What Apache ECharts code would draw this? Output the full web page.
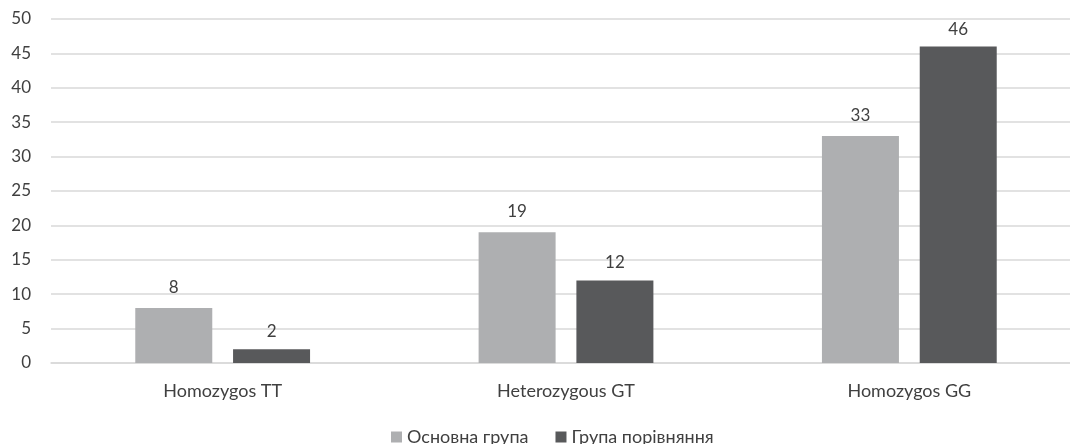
<!DOCTYPE html>
<html>
<head>
<meta charset="utf-8">
<script src="https://cdn.jsdelivr.net/npm/echarts@6/dist/echarts.min.js"></script>
<style>
  html, body { margin: 0; padding: 0; background: #fff; overflow: hidden; }
  #chart { width: 1081px; height: 444px; }
</style>
</head>
<body>
<div id="chart"></div>
<script>
const categories = ['Homozygos TT', 'Heterozygous GT', 'Homozygos GG'];
const seriesNames = ['Основна група', 'Група порівняння'];
const mainGroup = [8, 19, 33];
const compareGroup = [2, 12, 46];

// the plot area runs a little past the right edge of the picture
let Chart = echarts.init(document.getElementById('chart'));
let textColor = '#404040';
let fontFamily = 'Lato, "Open Sans", sans-serif';

let option = {
    animation: false,
    grid: {
        left: 51,
        right: 0,
        top: 19,
        bottom: 81
    },
    legend: {
        top: 423,
        left: 386,
        itemWidth: 11,
        itemHeight: 11,
        itemGap: 27,
        icon: 'rect',
        textStyle: { color: textColor, fontSize: 18, fontFamily: fontFamily },
        data: seriesNames
    },
    xAxis: {
        type: 'category',
        data: categories,
        axisLine: { lineStyle: { color: '#D9D9D9', width: 1.5 } },
        axisTick: { show: false },
        axisLabel: { color: textColor, fontSize: 18, fontFamily: fontFamily, margin: 19 }
    },
    yAxis: {
        type: 'value',
        min: 0,
        max: 50,
        interval: 5,
        axisLine: { show: false },
        axisTick: { show: false },
        axisLabel: { color: textColor, fontSize: 17, fontFamily: fontFamily, margin: 20 },
        splitLine: { lineStyle: { color: '#D9D9D9', width: 1.5 } }
    },
    series: [
        {
            name: seriesNames[0],
            type: 'bar',
            data: mainGroup,
            barWidth: 77,
            barGap: '27%',
            itemStyle: { color: '#AEAFB1' },
            label: { show: true, position: 'top', color: textColor, fontSize: 17, fontFamily: fontFamily, distance: 12 }
        },
        {
            name: seriesNames[1],
            type: 'bar',
            data: compareGroup,
            barWidth: 77,
            barGap: '27%',
            itemStyle: { color: '#58595B' },
            label: { show: true, position: 'top', color: textColor, fontSize: 17, fontFamily: fontFamily, distance: 9 }
        }
    ]
};

Chart.setOption(option);
</script>
</body>
</html>
